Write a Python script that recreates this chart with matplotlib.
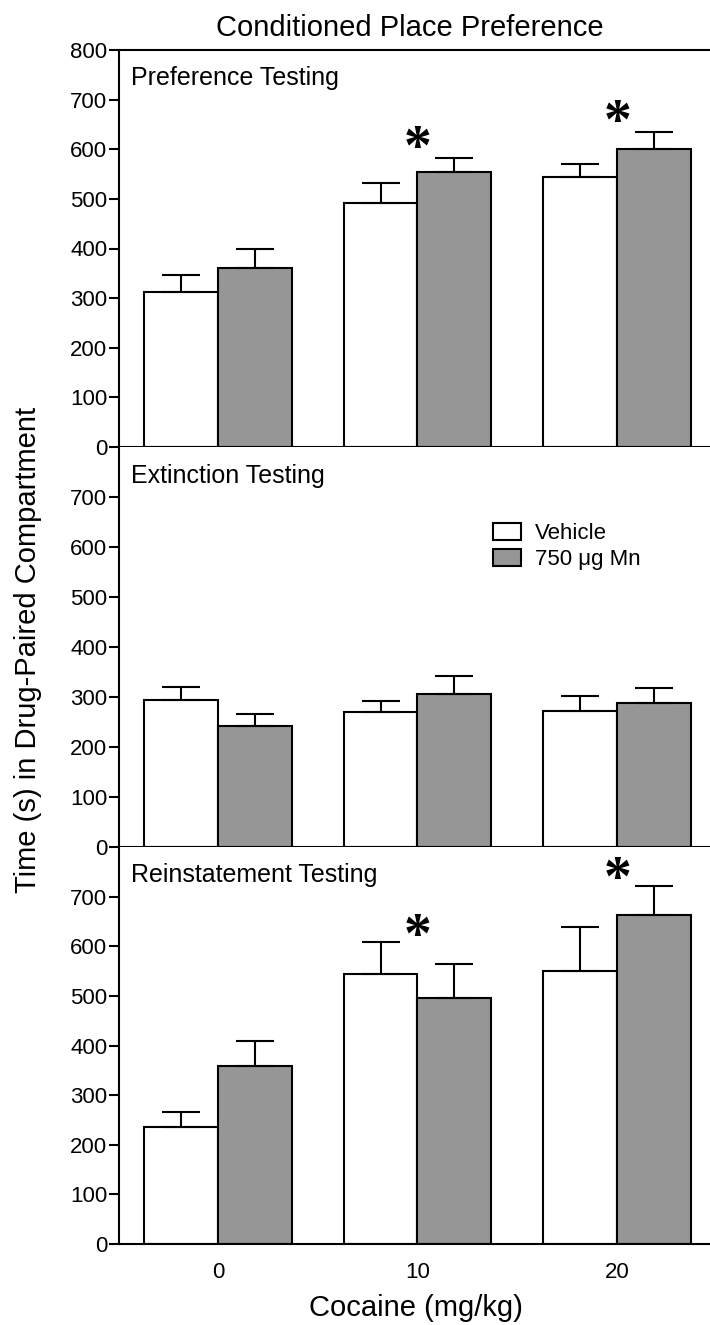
import numpy as np
import matplotlib
matplotlib.use('Agg')
import matplotlib.pyplot as plt
import matplotlib.transforms as mtransforms
from matplotlib.patches import Patch

plt.rcParams['font.family'] = ['Liberation Sans', 'DejaVu Sans']

# ---------------------------
# data
# ---------------------------
doses = ['0', '10', '20']
panel_names = ['Preference Testing', 'Extinction Testing', 'Reinstatement Testing']
series_names = ['Vehicle', '750 \u03bcg Mn']

pref_vehicle = [313, 492, 545]
pref_vehicle_sem = [34, 39, 25]
pref_mn = [361, 555, 600]
pref_mn_sem = [37, 28, 35]

ext_vehicle = [295, 270, 272]
ext_vehicle_sem = [25, 22, 30]
ext_mn = [243, 306, 288]
ext_mn_sem = [24, 37, 30]

rein_vehicle = [235, 545, 551]
rein_vehicle_sem = [31, 64, 88]
rein_mn = [359, 496, 663]
rein_mn_sem = [51, 69, 58]

# asterisks: dose index -> height of the star centre
pref_stars = {1: 623, 2: 675}
ext_stars = {}
rein_stars = {1: 641, 2: 756}

panels = [
    (pref_vehicle, pref_vehicle_sem, pref_mn, pref_mn_sem, pref_stars),
    (ext_vehicle, ext_vehicle_sem, ext_mn, ext_mn_sem, ext_stars),
    (rein_vehicle, rein_vehicle_sem, rein_mn, rein_mn_sem, rein_stars),
]

# ---------------------------
# figure layout (pixels)
# ---------------------------
W, H = 710, 1325
fig = plt.figure(figsize=(W / 100, H / 100), dpi=100)

def px_axes(left, top, right, bottom):
    return fig.add_axes([left / W, 1 - bottom / H, (right - left) / W, (bottom - top) / H])

boxes = [(119, 50, 710, 447), (119, 447, 710, 847), (119, 847, 710, 1244)]
gray = '#969696'
lw = 1.5
bw = 0.37
x = np.arange(len(doses))
star_fs = 40

axes = []
for i, (veh, veh_sem, mn, mn_sem, stars) in enumerate(panels):
    ax = px_axes(*boxes[i])
    axes.append(ax)
    ax.bar(x - bw / 2, veh, bw, color='white', edgecolor='black', linewidth=lw, zorder=2)
    ax.bar(x + bw / 2, mn, bw, color=gray, edgecolor='black', linewidth=lw, zorder=2)
    ax.errorbar(x - bw / 2, veh, yerr=[np.zeros(len(veh)), veh_sem], fmt='none',
                ecolor='black', elinewidth=lw, capsize=13.5, capthick=lw, zorder=3)
    ax.errorbar(x + bw / 2, mn, yerr=[np.zeros(len(mn)), mn_sem], fmt='none',
                ecolor='black', elinewidth=lw, capsize=13.5, capthick=lw, zorder=3)

    star_tr = mtransforms.offset_copy(ax.transData, fig=fig, y=-0.47 * star_fs, units='points')
    for k, yv in stars.items():
        ax.text(x[k], yv, '*', transform=star_tr, ha='center', va='baseline',
                fontsize=star_fs, fontweight='bold', family=['Liberation Serif', 'DejaVu Serif'])

    ax.text(0.02, 0.911, panel_names[i], transform=ax.transAxes, fontsize=18,
            ha='left', va='baseline')

    ax.set_xlim(-0.495, 2.465)
    ax.set_ylim(0, 800)
    if i == 0:
        ax.set_yticks(np.arange(0, 801, 100))
    else:
        ax.set_yticks(np.arange(0, 701, 100))
        ax.spines['top'].set_visible(False)
    ax.spines['right'].set_visible(False)
    for s in ['left', 'bottom', 'top']:
        ax.spines[s].set_linewidth(lw)
    ax.tick_params(axis='y', length=7, width=lw, pad=1.5, labelsize=16)
    ax.set_xticks(x)
    if i == 2:
        ax.set_xticklabels(doses)
        ax.tick_params(axis='x', length=0, pad=13, labelsize=16)
    else:
        ax.tick_params(axis='x', length=0, labelbottom=False)

# legend in the extinction panel
handles = [Patch(facecolor='white', edgecolor='black', linewidth=lw),
           Patch(facecolor=gray, edgecolor='black', linewidth=lw)]
axes[1].legend(handles, series_names, loc='upper left', bbox_to_anchor=(0.633, 0.81),
               frameon=False, fontsize=16, handlelength=1.25, handleheight=0.82,
               handletextpad=0.65, labelspacing=0.2, borderaxespad=0, borderpad=0)

fig.text(410 / W, 1 - 36 / H, 'Conditioned Place Preference', ha='center', va='baseline', fontsize=21)
fig.text(416 / W, 1 - 1316 / H, 'Cocaine (mg/kg)', ha='center', va='baseline', fontsize=21)
fig.text(28 / W, 1 - 650 / H, 'Time (s) in Drug-Paired Compartment', rotation=90,
         ha='center', va='center', fontsize=21)

fig.savefig('out.png', dpi=100)
